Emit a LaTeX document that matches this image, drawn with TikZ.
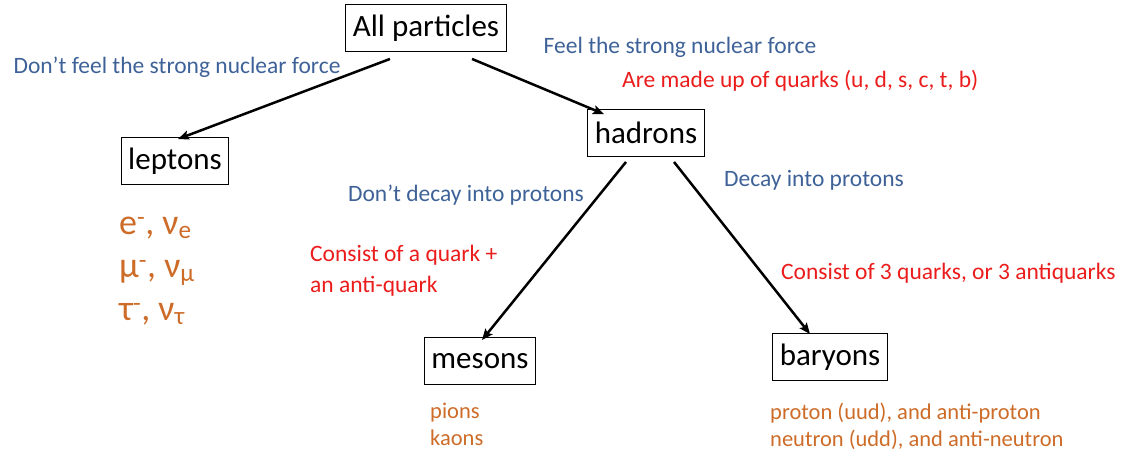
\documentclass[tikz,border=0pt]{standalone}
\usepackage{fontspec}
\setmainfont{Carlito}
\usetikzlibrary{arrows.meta,positioning}
\definecolor{labelblue}{RGB}{62,98,152}
\definecolor{notered}{RGB}{235,28,28}
\definecolor{listorange}{RGB}{205,108,40}
\tikzset{
  cls/.style={draw=black,line width=0.9pt,fill=white,inner xsep=7pt,minimum height=47pt,font=\fontsize{31}{37}\selectfont},
  prop/.style={text=labelblue,inner sep=0pt,font=\fontsize{23.5}{28}\selectfont},
  rule/.style={text=notered,inner sep=0pt,align=left,font=\fontsize{23.5}{31}\selectfont},
  members/.style={text=listorange,inner sep=0pt,align=left,anchor=north west,font=\fontsize{22.5}{27}\selectfont},
  arr/.style={-{Stealth[length=11pt,width=9pt,inset=2pt]},draw=black,line width=2.5pt}
}
\begin{document}
\begin{tikzpicture}[x=1pt,y=-1pt]
  \useasboundingbox (0,0) rectangle (1126,457);
  % particle classes
  \node[cls] (all) at (426,28) {All particles};
  \node[cls] (lep) at (175,161) {leptons};
  \node[cls] (had) at (646,133) {hadrons};
  \node[cls] (mes) at (480,361) {mesons};
  \node[cls] (bar) at (830,357) {baryons};
  % branches
  \draw[arr] ([xshift=-36pt,yshift=-7pt]all.south) -- ([xshift=3pt,yshift=-2pt]lep.north);
  \draw[arr] ([xshift=46pt,yshift=-7pt]all.south) -- ([xshift=-42pt,yshift=-5pt]had.north);
  \draw[arr] ([xshift=-20pt,yshift=-5pt]had.south) -- ([xshift=2pt,yshift=-3pt]mes.north);
  \draw[arr] ([xshift=28pt,yshift=-5pt]had.south) -- ([xshift=-20pt,yshift=-1pt]bar.north);
  % branch labels
  \node[prop] (nostrong) at (177,67) {Don’t feel the strong nuclear force};
  \node[prop] (strong) at (680,47) {Feel the strong nuclear force};
  \node[rule,anchor=west] (quarks) at (622,81) {Are made up of quarks (u, d, s, c, t, b)};
  \node[prop] (nodecay) at (466,195) {Don’t decay into protons};
  \node[prop] (decay) at (814,180) {Decay into protons};
  \node[rule,anchor=north west] (qpair) at (310,245) {Consist of a quark +\\an anti-quark};
  \node[rule,anchor=west] (qtriple) at (781,273) {Consist of 3 quarks, or 3 antiquarks};
  % members
  \node[members,font=\fontsize{36}{43}\selectfont] (leplist) at (119,217)
    {e\textsuperscript{-}, ν\textsubscript{e}\\μ\textsuperscript{-}, ν\textsubscript{μ}\\τ\textsuperscript{-}, ν\textsubscript{τ}};
  \node[members] (meslist) at (430,403) {pions\\kaons};
  \node[members] (barlist) at (770,403) {proton (uud), and anti-proton\\neutron (udd), and anti-neutron};
\end{tikzpicture}
\end{document}
